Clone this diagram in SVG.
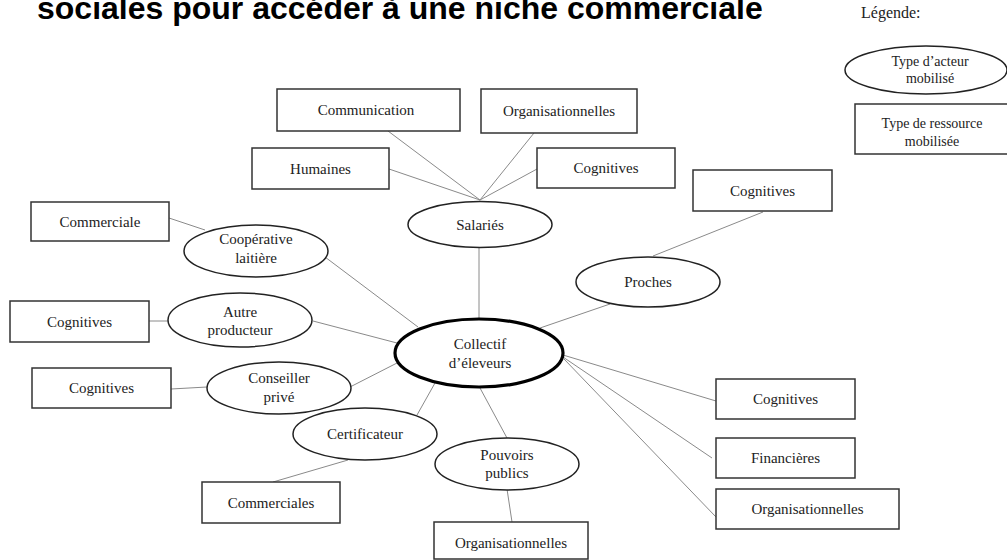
<svg xmlns="http://www.w3.org/2000/svg" width="1007" height="560" viewBox="0 0 1007 560">
<style>
.t{font-family:"Liberation Serif","Times New Roman",serif;font-size:15px;fill:#222;text-anchor:middle}
.lg{font-size:14px}
.box{fill:#fff;stroke:#333;stroke-width:1.5}
.ell{fill:#fff;stroke:#222;stroke-width:1.5}
.main{fill:#fff;stroke:#000;stroke-width:3.2}
.con line{stroke:#8a8a8a;stroke-width:1}
.title{font-family:"Liberation Sans",Arial,sans-serif;font-weight:bold;font-size:32px;fill:#000}
</style>
<rect width="1007" height="560" fill="#fff"/>
<text class="title" x="37" y="19">sociales pour accéder à une niche commerciale</text>

<g id="connectors" class="con">
<line x1="388" y1="131" x2="480" y2="200"/>
<line x1="534" y1="133" x2="480" y2="200"/>
<line x1="389" y1="169" x2="480" y2="200"/>
<line x1="537" y1="169" x2="480" y2="200"/>
<line x1="479" y1="247" x2="479" y2="319"/>
<line x1="169" y1="218" x2="205" y2="230"/>
<line x1="325" y1="257" x2="418" y2="327"/>
<line x1="149" y1="321" x2="168" y2="321"/>
<line x1="313" y1="321" x2="397" y2="343"/>
<line x1="171" y1="389" x2="207" y2="387"/>
<line x1="350" y1="387" x2="397" y2="363"/>
<line x1="417" y1="415" x2="435" y2="383"/>
<line x1="348" y1="460" x2="273" y2="482"/>
<line x1="507" y1="438" x2="480" y2="388"/>
<line x1="507" y1="489" x2="512" y2="522"/>
<line x1="610" y1="304" x2="540" y2="328"/>
<line x1="653" y1="256" x2="763" y2="212"/>
<line x1="563" y1="355" x2="716" y2="401"/>
<line x1="563" y1="357" x2="712" y2="458"/>
<line x1="564" y1="359" x2="716" y2="517"/>
</g>

<g id="legend">
<text class="t" x="861" y="18" style="text-anchor:start;font-size:16px">Légende:</text>
<ellipse class="ell" cx="926" cy="70" rx="81" ry="24"/>
<text class="t lg" x="930" y="66">Type d’acteur</text>
<text class="t lg" x="930" y="83">mobilisé</text>
<rect class="box" x="855" y="104" width="160" height="50"/>
<text class="t lg" x="932" y="128">Type de ressource</text>
<text class="t lg" x="932" y="146">mobilisée</text>
</g>

<g id="collectif">
<ellipse class="main" cx="479" cy="353" rx="84" ry="34"/>
<text class="t" x="480" y="349">Collectif</text>
<text class="t" x="480" y="368">d’éleveurs</text>
</g>

<g id="salaries">
<ellipse class="ell" cx="480" cy="224.5" rx="72" ry="23"/>
<text class="t" x="480" y="230">Salariés</text>
</g>
<g id="communication">
<rect class="box" x="277" y="89" width="183" height="42"/>
<text class="t" x="366" y="115">Communication</text>
</g>
<g id="org-top">
<rect class="box" x="481" y="89" width="156" height="44"/>
<text class="t" x="559" y="116">Organisationnelles</text>
</g>
<g id="humaines">
<rect class="box" x="252" y="148" width="137" height="41"/>
<text class="t" x="320.5" y="174">Humaines</text>
</g>
<g id="cog-sal">
<rect class="box" x="537" y="148" width="138" height="40"/>
<text class="t" x="606" y="173">Cognitives</text>
</g>

<g id="proches">
<ellipse class="ell" cx="648" cy="282" rx="72" ry="25"/>
<text class="t" x="648" y="287">Proches</text>
</g>
<g id="cog-proches">
<rect class="box" x="693" y="170" width="139" height="41"/>
<text class="t" x="762.5" y="196">Cognitives</text>
</g>

<g id="cooperative">
<ellipse class="ell" cx="256" cy="251" rx="72" ry="26"/>
<text class="t" x="256" y="244">Coopérative</text>
<text class="t" x="256" y="263">laitière</text>
</g>
<g id="commerciale">
<rect class="box" x="31" y="202" width="138" height="39"/>
<text class="t" x="100" y="227">Commerciale</text>
</g>

<g id="autre">
<ellipse class="ell" cx="240" cy="320" rx="72" ry="27"/>
<text class="t" x="240" y="317">Autre</text>
<text class="t" x="240" y="335">producteur</text>
</g>
<g id="cog-autre">
<rect class="box" x="10" y="301" width="139" height="41"/>
<text class="t" x="79.5" y="327">Cognitives</text>
</g>

<g id="conseiller">
<ellipse class="ell" cx="279" cy="388" rx="72" ry="26"/>
<text class="t" x="279" y="383">Conseiller</text>
<text class="t" x="279" y="402">privé</text>
</g>
<g id="cog-conseiller">
<rect class="box" x="32" y="368" width="139" height="40"/>
<text class="t" x="101.5" y="393">Cognitives</text>
</g>

<g id="certificateur">
<ellipse class="ell" cx="365" cy="434" rx="72" ry="26"/>
<text class="t" x="365" y="439">Certificateur</text>
</g>
<g id="commerciales">
<rect class="box" x="202" y="482" width="138" height="41"/>
<text class="t" x="271" y="508">Commerciales</text>
</g>

<g id="pouvoirs">
<ellipse class="ell" cx="507" cy="464" rx="72" ry="26"/>
<text class="t" x="507" y="460">Pouvoirs</text>
<text class="t" x="507" y="478">publics</text>
</g>
<g id="org-bottom">
<rect class="box" x="434" y="522" width="154" height="37"/>
<text class="t" x="511" y="548">Organisationnelles</text>
</g>

<g id="cog-right">
<rect class="box" x="716" y="379" width="139" height="40"/>
<text class="t" x="785.5" y="404">Cognitives</text>
</g>
<g id="financieres">
<rect class="box" x="716" y="438" width="139" height="40"/>
<text class="t" x="785.5" y="463">Financières</text>
</g>
<g id="org-right">
<rect class="box" x="716" y="489" width="183" height="40"/>
<text class="t" x="807.5" y="514">Organisationnelles</text>
</g>
</svg>
